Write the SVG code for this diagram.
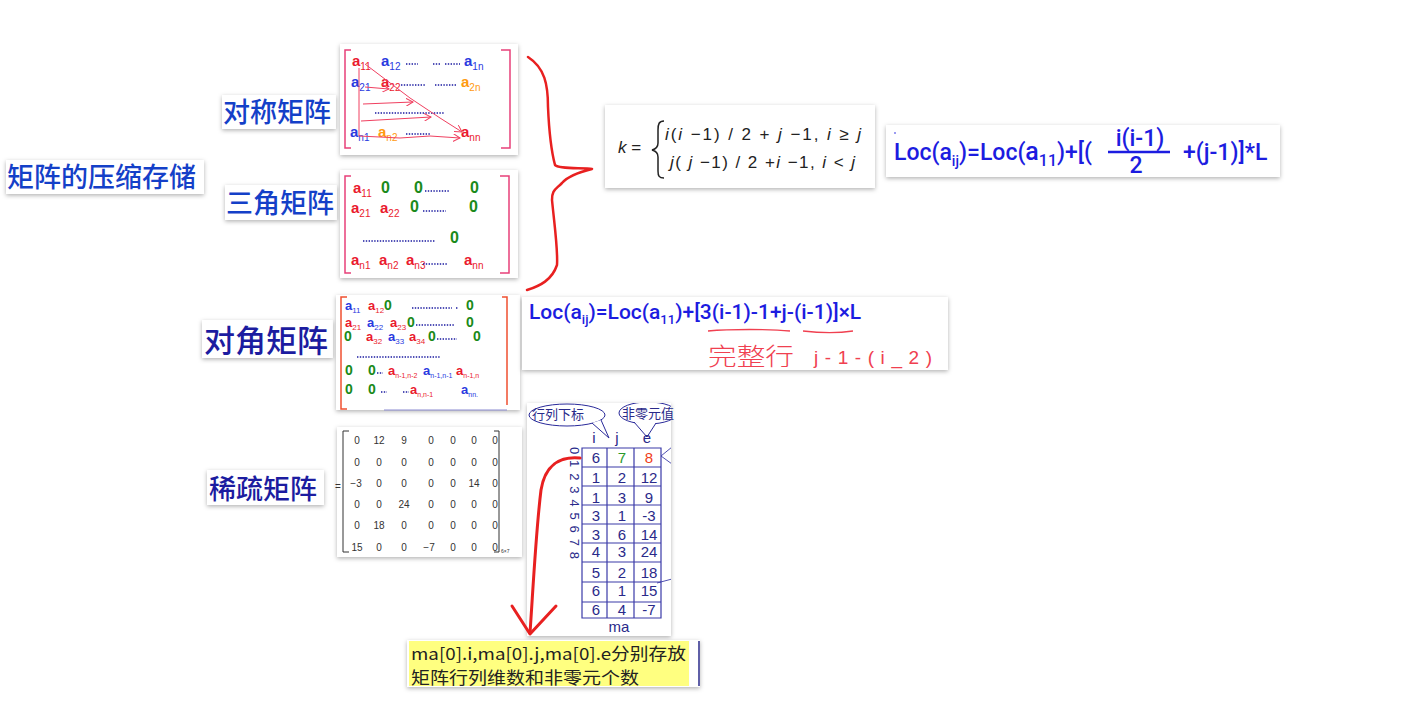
<svg xmlns="http://www.w3.org/2000/svg" width="1403" height="702" viewBox="0 0 1403 702">
<defs>
<filter id="sh" x="-10%" y="-10%" width="120%" height="125%">
<feDropShadow dx="0" dy="1.5" stdDeviation="2" flood-color="#000" flood-opacity="0.3"/>
</filter>
<marker id="ah" markerWidth="8" markerHeight="8" refX="7" refY="4" orient="auto" markerUnits="userSpaceOnUse">
<path d="M0,0 L7,4 L0,8" fill="none" stroke="#f04060" stroke-width="1"/>
</marker>
<clipPath id="tclip"><rect x="527" y="403" width="144" height="233"/></clipPath>
</defs>
<style>
.lbl{font-family:"Noto Sans CJK SC","Noto Sans",sans-serif;font-weight:500}
.l1{fill:#1440c8;font-size:27px}
.l2{fill:#1c1ca0}
.box{fill:#fff;filter:url(#sh)}
.m{font-family:"Liberation Sans",Arial,sans-serif}
.r{fill:#ea1a2e}.b{fill:#2a3ae0}.o{fill:#ff9a10}.g{fill:#1a8a1a}
.dot{stroke:#1a1aa0;stroke-width:1.6;stroke-dasharray:1.4 1.4;fill:none}
.br1{stroke:#e8407a;stroke-width:1.5;fill:none}
.hand{stroke:#f04060;stroke-width:1;fill:none}
.sp{font-family:"Liberation Sans",Arial,sans-serif;font-size:10px;fill:#333;text-anchor:middle}
.loc{font-family:Roboto,"Liberation Sans",sans-serif;fill:#1c1ce0;font-weight:500}
.tb{font-family:"Liberation Sans",Arial,sans-serif;font-size:15px;fill:#2a2a8a;text-anchor:middle}
.tl{stroke:#3a3aa8;stroke-width:1.2;fill:none}
.cjk{font-family:"Noto Sans CJK SC","Noto Sans",sans-serif}
</style>

<!-- labels -->
<g id="root">
<rect x="6" y="160" width="198" height="34" fill="#fff" filter="url(#sh)"/>
<text x="7" y="187" class="lbl l1">矩阵的压缩存储</text>
</g>
<g id="lbl-sym">
<rect x="222" y="95" width="114" height="34" fill="#fff" filter="url(#sh)"/>
<text x="223" y="122" class="lbl l1">对称矩阵</text>
</g>
<g id="lbl-tri">
<rect x="225" y="185" width="112" height="35" fill="#fff" filter="url(#sh)"/>
<text x="226" y="213" class="lbl l1">三角矩阵</text>
</g>
<g id="lbl-diag">
<rect x="202" y="320" width="131" height="38" fill="#fff" filter="url(#sh)"/>
<text x="204" y="352" class="lbl l2" font-size="31" font-weight="400">对角矩阵</text>
</g>
<g id="lbl-sparse">
<rect x="207" y="470" width="117" height="35" fill="#fff" filter="url(#sh)"/>
<text x="209" y="499" class="lbl l2" font-size="27" font-weight="400">稀疏矩阵</text>
</g>

<!-- symmetric matrix -->
<g id="sym" class="m" font-size="15" font-weight="bold">
<rect x="340" y="44" width="178" height="111" class="box"/>
<path class="br1" d="M351,50 H345 V148 H351 M501,50 H510 V148 H501"/>
<text x="352" y="66" class="r">a<tspan dy="4" font-size="10" font-weight="normal">11</tspan></text>
<text x="381" y="66" class="b">a<tspan dy="4" font-size="10" font-weight="normal">12</tspan></text>
<path class="dot" d="M406,64 H418 M433,64 H440 M445,64 H460"/>
<text x="464" y="66" class="b">a<tspan dy="4" font-size="10" font-weight="normal">1n</tspan></text>
<text x="351" y="87" class="b">a<tspan dy="4" font-size="10" font-weight="normal">21</tspan></text>
<text x="381" y="87" class="r">a<tspan dy="4" font-size="10" font-weight="normal">22</tspan></text>
<path class="dot" d="M401,85 H426 M435,85 H456"/>
<text x="461" y="87" class="o">a<tspan dy="4" font-size="10" font-weight="normal">2n</tspan></text>
<path class="dot" d="M375,113 H445"/>
<text x="350" y="137" class="b">a<tspan dy="4" font-size="10" font-weight="normal">n1</tspan></text>
<text x="378" y="137" class="o">a<tspan dy="4" font-size="10" font-weight="normal">n2</tspan></text>
<path class="dot" d="M406,134 H430"/>
<text x="461" y="137" class="r">a<tspan dy="4" font-size="10" font-weight="normal">nn</tspan></text>
<path class="hand" d="M359,68 L359,136 L400,138 L430,136 L460,138" marker-end="url(#ah)"/>
<path class="hand" d="M365,64 L410,98 L440,118 L462,132" marker-end="url(#ah)"/>
<path class="hand" d="M365,87 L389,89" marker-end="url(#ah)"/>
<path class="hand" d="M363,104 L413,102" marker-end="url(#ah)"/>
<path class="hand" d="M361,121 L431,117" marker-end="url(#ah)"/>
</g>

<!-- triangular matrix -->
<g id="tri" class="m">
<rect x="340" y="170" width="178" height="108" class="box"/>
<path class="br1" d="M351,176 H345 V273 H351 M500,176 H509 V273 H500"/>
<g font-size="15" font-weight="bold" class="r">
<text x="353" y="193">a<tspan dy="4" font-size="10" font-weight="normal">11</tspan></text>
<text x="351" y="213">a<tspan dy="4" font-size="10" font-weight="normal">21</tspan></text>
<text x="380" y="213">a<tspan dy="4" font-size="10" font-weight="normal">22</tspan></text>
<text x="351" y="265">a<tspan dy="4" font-size="10" font-weight="normal">n1</tspan></text>
<text x="379" y="265">a<tspan dy="4" font-size="10" font-weight="normal">n2</tspan></text>
<text x="406" y="265">a<tspan dy="4" font-size="10" font-weight="normal">n3</tspan></text>
<text x="464" y="265">a<tspan dy="4" font-size="10" font-weight="normal">nn</tspan></text>
</g>
<g font-size="16" font-weight="bold" class="g">
<text x="381" y="193">0</text><text x="414" y="193">0</text><text x="470" y="193">0</text>
<text x="410" y="212">0</text><text x="469" y="212">0</text>
<text x="450" y="243">0</text>
</g>
<path class="dot" d="M425,191 H450 M423,211 H446 M363,241 H435 M423,264 H448"/>
</g>

<!-- diagonal matrix -->
<g id="diag" class="m">
<rect x="336" y="295" width="184" height="115" class="box"/>
<path d="M347,297 H341 V409 H347" stroke="#f05030" stroke-width="1.5" fill="none"/>
<path d="M502,297 H507 V405" stroke="#f05030" stroke-width="1.5" fill="none"/>
<path d="M384,410 H507" stroke="#8a8ad0" stroke-width="1"/>
<g font-size="13" font-weight="bold">
<text x="345" y="310" class="b">a<tspan dy="3" font-size="8" font-weight="normal">11</tspan></text>
<text x="368" y="310" class="r">a<tspan dy="3" font-size="8" font-weight="normal">12</tspan></text>
<text x="345" y="327" class="r">a<tspan dy="3" font-size="8" font-weight="normal">21</tspan></text>
<text x="367" y="327" class="b">a<tspan dy="3" font-size="8" font-weight="normal">22</tspan></text>
<text x="390" y="327" class="r">a<tspan dy="3" font-size="8" font-weight="normal">23</tspan></text>
<text x="366" y="341" class="r">a<tspan dy="3" font-size="8" font-weight="normal">32</tspan></text>
<text x="388" y="341" class="b">a<tspan dy="3" font-size="8" font-weight="normal">33</tspan></text>
<text x="409" y="341" class="r">a<tspan dy="3" font-size="8" font-weight="normal">34</tspan></text>
<text x="388" y="375" class="r">a<tspan dy="3" font-size="7" font-weight="normal">n-1,n-2</tspan></text>
<text x="423" y="375" class="b">a<tspan dy="3" font-size="7" font-weight="normal">n-1,n-1</tspan></text>
<text x="456" y="375" class="r">a<tspan dy="3" font-size="7" font-weight="normal">n-1,n</tspan></text>
<text x="410" y="394" class="r">a<tspan dy="3" font-size="7" font-weight="normal">n,n-1</tspan></text>
<text x="461" y="394" class="b">a<tspan dy="3" font-size="7" font-weight="normal">nn.</tspan></text>
</g>
<g font-size="14" font-weight="bold" class="g">
<text x="384" y="310">0</text><text x="466" y="310">0</text>
<text x="407" y="327">0</text><text x="466" y="327">0</text>
<text x="344" y="341">0</text><text x="428" y="341">0</text><text x="473" y="341">0</text>
<text x="345" y="375">0</text><text x="368" y="375">0</text>
<text x="345" y="394">0</text><text x="368" y="394">0</text>
</g>
<path class="dot" d="M412,308 H452 M456,308 H458 M416,325 H454 M437,339 H457 M357,357 H441 M377,373 H383 M381,392 H387 M403,392 H409"/>
</g>

<!-- sparse matrix -->
<g id="sparse">
<rect x="337" y="427" width="185" height="130" class="box"/>
<path d="M349,431 H343 V552 H349 M494,431 H499 V552 H494" stroke="#333" stroke-width="1" fill="none"/>
<text x="338" y="490" class="sp" text-anchor="start">=</text>
<g class="sp">
<text x="357" y="444">0</text><text x="379" y="444">12</text><text x="404" y="444">9</text><text x="431" y="444">0</text><text x="453" y="444">0</text><text x="474" y="444">0</text><text x="495" y="444">0</text>
<text x="357" y="466">0</text><text x="379" y="466">0</text><text x="404" y="466">0</text><text x="431" y="466">0</text><text x="453" y="466">0</text><text x="474" y="466">0</text><text x="495" y="466">0</text>
<text x="356" y="487">−3</text><text x="379" y="487">0</text><text x="404" y="487">0</text><text x="431" y="487">0</text><text x="453" y="487">0</text><text x="474" y="487">14</text><text x="495" y="487">0</text>
<text x="357" y="508">0</text><text x="379" y="508">0</text><text x="404" y="508">24</text><text x="431" y="508">0</text><text x="453" y="508">0</text><text x="474" y="508">0</text><text x="495" y="508">0</text>
<text x="357" y="529">0</text><text x="379" y="529">18</text><text x="404" y="529">0</text><text x="431" y="529">0</text><text x="453" y="529">0</text><text x="474" y="529">0</text><text x="495" y="529">0</text>
<text x="357" y="551">15</text><text x="379" y="551">0</text><text x="404" y="551">0</text><text x="429" y="551">−7</text><text x="453" y="551">0</text><text x="474" y="551">0</text><text x="495" y="551">0</text>
</g>
<text x="501" y="553" font-family="Liberation Sans,sans-serif" font-size="5" fill="#333">6×7</text>
</g>

<!-- k formula -->
<g id="kform">
<rect x="605" y="105" width="270" height="83" class="box"/>
<text x="618" y="153" font-family="Liberation Sans,sans-serif" font-size="17" fill="#222"><tspan font-style="italic">k</tspan> =</text>
<path d="M664,121 C659,121 658,124 658,130 L658,143 C658,147 656,149 652,150 C656,151 658,153 658,157 L658,171 C658,176 659,178 664,178" stroke="#222" stroke-width="1.5" fill="none"/>
<text x="665" y="140" font-family="Liberation Sans,sans-serif" font-size="17" fill="#222" textLength="196" lengthAdjust="spacing"><tspan font-style="italic">i</tspan>(<tspan font-style="italic">i</tspan> −1) / 2 + <tspan font-style="italic">j</tspan> −1,  <tspan font-style="italic">i</tspan> ≥ <tspan font-style="italic">j</tspan></text>
<text x="670" y="168" font-family="Liberation Sans,sans-serif" font-size="17" fill="#222" textLength="185" lengthAdjust="spacing"><tspan font-style="italic">j</tspan>( <tspan font-style="italic">j</tspan> −1) / 2 +<tspan font-style="italic">i</tspan> −1, <tspan font-style="italic">i</tspan> &lt; <tspan font-style="italic">j</tspan></text>
</g>

<!-- Loc formula 1 -->
<g id="loc1" class="loc">
<rect x="886" y="125" width="394" height="52" class="box"/>
<circle cx="895" cy="133" r="0.8" fill="#1c1ce0"/>
<text x="894" y="160" font-size="23">Loc(a<tspan dy="6" font-size="14">ij</tspan><tspan dy="-6">)=Loc(</tspan><tspan font-size="25">a</tspan><tspan dy="6" font-size="16">11</tspan><tspan dy="-6">)+[(</tspan></text>
<text x="1140" y="146" font-size="23" text-anchor="middle">i(i-1)</text>
<path d="M1108,152 H1170" stroke="#1c1ce0" stroke-width="2.5"/>
<text x="1136" y="173" font-size="23" text-anchor="middle">2</text>
<text x="1183" y="160" font-size="23">+(j-1)]*L</text>
</g>

<!-- Loc formula 2 -->
<g id="loc2">
<rect x="522" y="297" width="426" height="73" class="box"/>
<text x="529" y="319" class="loc" font-size="21">Loc(a<tspan dy="5" font-size="13">ij</tspan><tspan dy="-5">)=Loc(a</tspan><tspan dy="5" font-size="13">11</tspan><tspan dy="-5">)+[3(i-1)-1+j-(i-1)]×L</tspan></text>
<path d="M708,331 C730,329 770,329 790,331 M803,331 C820,333 840,333 853,331" stroke="#f04050" stroke-width="1.3" fill="none"/>
<text x="708" y="365" class="cjk" font-size="24" fill="#f04050" font-weight="300" textLength="86" lengthAdjust="spacingAndGlyphs">完整行</text>
<text x="814" y="364" font-family="Liberation Sans,sans-serif" font-size="19" fill="#f04050" textLength="118" lengthAdjust="spacing">j-1-(i_2)</text>
</g>

<!-- triple table -->
<g id="triple">
<rect x="527" y="403" width="144" height="233" class="box"/>
<g clip-path="url(#tclip)">
<ellipse cx="567" cy="415" rx="38" ry="11" fill="#fff" stroke="#2a2a9a" stroke-width="1"/>
<path d="M592,423 L609,438 L601,420" fill="#fff" stroke="#2a2a9a" stroke-width="1"/>
<ellipse cx="648" cy="413" rx="29" ry="11" fill="#fff" stroke="#2a2a9a" stroke-width="1"/>
<path d="M634,422 L647,437 L656,423" fill="#fff" stroke="#2a2a9a" stroke-width="1"/>
<path d="M661,456 L672,447 M661,456 L672,464 M657,583 L672,579" stroke="#5050b0" stroke-width="1"/>
</g>
<text x="532" y="419" class="cjk" font-size="13" fill="#2a2a8a">行列下标</text>
<text x="622" y="418" class="cjk" font-size="13" fill="#2a2a8a">非零元值</text>
<g class="tb" font-size="14">
<text x="594" y="443">i</text><text x="617" y="443">j</text><text x="647" y="443">e</text>
</g>
<path class="tl" d="M582,448 H661 V618 H582 Z M607,448 V618 M634,448 V618 M582,467 H661 M582,486 H661 M582,505 H661 M582,524 H661 M582,543 H661 M582,562 H661 M582,582 H661 M582,602 H661"/>
<g class="tb">
<text x="596" y="463">6</text><text x="622" y="463" fill="#2a9a2a">7</text><text x="649" y="463" fill="#f04020">8</text>
<text x="596" y="483">1</text><text x="622" y="483">2</text><text x="649" y="483">12</text>
<text x="596" y="503">1</text><text x="622" y="503">3</text><text x="649" y="503">9</text>
<text x="596" y="521">3</text><text x="622" y="521">1</text><text x="649" y="521">-3</text>
<text x="596" y="540">3</text><text x="622" y="540">6</text><text x="649" y="540">14</text>
<text x="596" y="557">4</text><text x="622" y="557">3</text><text x="649" y="557">24</text>
<text x="596" y="578">5</text><text x="622" y="578">2</text><text x="649" y="578">18</text>
<text x="596" y="596">6</text><text x="622" y="596">1</text><text x="649" y="596">15</text>
<text x="596" y="615">6</text><text x="622" y="615">4</text><text x="649" y="615">-7</text>
</g>
<text transform="translate(570,447) rotate(90)" font-family="Liberation Sans,sans-serif" font-size="13" fill="#2a2a8a" textLength="112" lengthAdjust="spacing">0 1 2 3 4 5 6 7 8</text>
<text x="619" y="632" class="tb" font-size="13">ma</text>
</g>

<!-- yellow note -->
<g id="note">
<rect x="407" y="640" width="293" height="47" fill="#fff" filter="url(#sh)"/>
<rect x="409" y="641" width="280" height="45" fill="#ffff80"/>
<path d="M699,641 V686" stroke="#2a2a8a" stroke-width="1.5"/>
<text x="411" y="660" class="cjk" font-size="16.5" fill="#222" textLength="275" lengthAdjust="spacingAndGlyphs">ma[0].i,ma[0].j,ma[0].e分别存放</text>
<text x="411" y="684" class="cjk" font-size="16.5" fill="#222" textLength="228" lengthAdjust="spacingAndGlyphs">矩阵行列维数和非零元个数</text>
</g>

<!-- connectors -->
<g id="connectors" fill="none" stroke="#e82020" stroke-linecap="round" stroke-linejoin="round">
<path stroke-width="2.5" d="M528,57 C545,68 548,85 548,107 C549,130 551,150 555,165 C560,170 585,167 592,169 C580,172 567,177 562,183 C555,190 552,190 552,200 C555,230 558,250 557,265 C552,280 540,286 527,290"/>
<path stroke-width="3" d="M580,458 C560,456 545,465 541,490 C536,530 533,590 530,633"/>
<path stroke-width="3" d="M512,606 L530,634 L556,606"/>
</g>
</svg>
